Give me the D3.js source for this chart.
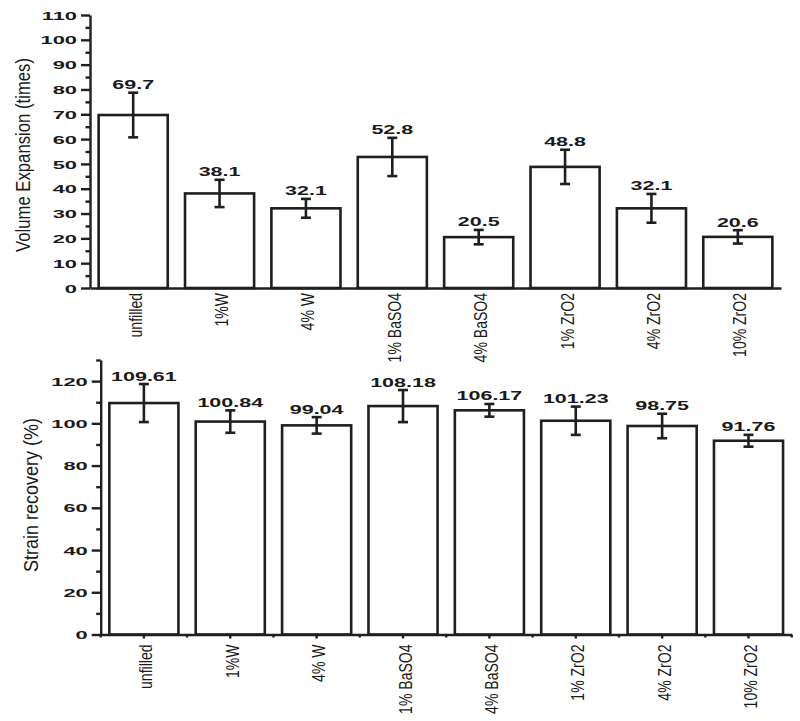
<!DOCTYPE html>
<html>
<head>
<meta charset="utf-8">
<script src="https://cdn.jsdelivr.net/npm/d3@7"></script>
<style>
  body { margin: 0; background: #fff; }
  svg { display: block; }
  text { fill: #1a1a1a; font-family: "Liberation Sans", Arial, sans-serif; }
</style>
</head>
<body>
<svg id="vis" width="800" height="721"></svg>
<script>
// sample names
const categories = ['unfilled', '1%W', '4% W', '1% BaSO4', '4% BaSO4', '1% ZrO2', '4% ZrO2', '10% ZrO2'];
// volume expansion (times) and error
const expansion = [69.7, 38.1, 32.1, 52.8, 20.5, 48.8, 32.1, 20.6];
const expansionErr = [9.0, 5.5, 3.8, 7.7, 2.9, 6.9, 5.8, 2.7];
// strain recovery (%) and error
const recovery = [109.61, 100.84, 99.04, 108.18, 106.17, 101.23, 98.75, 91.76];
const recoveryErr = [9.0, 5.3, 3.9, 7.6, 3.0, 6.7, 5.8, 2.8];
// y ticks
const expTicks = d3.range(0, 111, 10);
const expMinor = d3.range(5, 110, 10);
const recTicks = d3.range(0, 121, 20);
const recMinor = d3.range(10, 131, 20);

const svg = d3.select('#vis');
const ink = '#1f1f1f';

function panel(opt) {
  const g = svg.append('g');
  const x = d3.scaleBand().domain(categories).range(opt.xr).paddingInner(0.2).paddingOuter(0.1);
  const y = d3.scaleLinear().domain(opt.yd).range(opt.yr);

  // bars
  g.selectAll('rect.bar').data(opt.values).join('rect')
    .attr('class', 'bar')
    .attr('x', (d, i) => x(categories[i]))
    .attr('y', d => y(d))
    .attr('width', x.bandwidth())
    .attr('height', d => y(0) - y(d))
    .attr('fill', '#fff').attr('stroke', ink).attr('stroke-width', 2.6);

  // error bars
  const eb = g.selectAll('g.err').data(opt.values).join('g')
    .attr('class', 'err')
    .attr('transform', (d, i) => `translate(${x(categories[i]) + x.bandwidth() / 2},0)`);
  eb.append('line')
    .attr('y1', (d, i) => y(d + opt.errs[i])).attr('y2', (d, i) => y(d - opt.errs[i]));
  eb.append('line').attr('x1', -5).attr('x2', 5)
    .attr('y1', (d, i) => y(d + opt.errs[i])).attr('y2', (d, i) => y(d + opt.errs[i]));
  eb.append('line').attr('x1', -5).attr('x2', 5)
    .attr('y1', (d, i) => y(d - opt.errs[i])).attr('y2', (d, i) => y(d - opt.errs[i]));
  eb.selectAll('line').attr('stroke', ink).attr('stroke-width', 2.6);

  // value labels (the figure is stretched sideways, so are the numbers)
  eb.append('text')
    .attr('transform', (d, i) => `translate(0,${y(d + opt.errs[i]) - 3.5}) scale(1.72,1)`)
    .attr('text-anchor', 'middle')
    .style('font-weight', 'bold').style('font-size', '12.5px')
    .text(d => String(d));

  // y axis
  const ya = g.append('g').attr('transform', `translate(${opt.xr[0]},0)`)
    .call(d3.axisLeft(y).tickValues(opt.ticks).tickSize(9).tickSizeOuter(0).tickPadding(0));
  ya.selectAll('text')
    .attr('x', null).attr('dy', '0.36em')
    .attr('transform', `translate(-13,0) scale(1.9,1)`)
    .style('font-weight', 'bold').style('font-size', '11.5px');
  g.append('g').attr('transform', `translate(${opt.xr[0]},0)`)
    .call(d3.axisLeft(y).tickValues(opt.minor).tickSize(4.5).tickFormat(''))
    .select('.domain').remove();

  // x axis
  const xa = g.append('g').attr('transform', `translate(0,${y(0)})`)
    .call(d3.axisBottom(x).tickSize(opt.xTick).tickSizeOuter(0).tickFormat(''));
  if (opt.xTick > 0) {
    const edges = categories.map(c => x(c) - x.step() * x.paddingInner() / 2).concat([opt.xr[1]]);
    xa.selectAll('line.minor').data(edges).join('line')
      .attr('class', 'minor')
      .attr('x1', d => d).attr('x2', d => d).attr('y1', 0).attr('y2', 3);
  }
  g.selectAll('.domain, .tick line, line.minor').attr('stroke', ink).attr('stroke-width', 2.4);

  // category labels, rotated
  g.selectAll('text.cat').data(categories).join('text')
    .attr('class', 'cat')
    .attr('transform', d => `translate(${x(d) + x.bandwidth() / 2 + 8.5},${y(0) + opt.labelGap}) rotate(-90) scale(0.78,1)`)
    .attr('text-anchor', 'end')
    .style('font-size', '18px')
    .text(d => d);

  // axis title
  svg.append('text')
    .attr('transform', `translate(${opt.titleX},${opt.titleY}) rotate(-90)`)
    .attr('text-anchor', 'middle')
    .attr('textLength', opt.titleLen).attr('lengthAdjust', 'spacingAndGlyphs')
    .style('font-size', '21px')
    .text(opt.title);
}

panel({
  values: expansion, errs: expansionErr,
  xr: [90, 781], yd: [0, 110], yr: [288, 15],
  ticks: expTicks, minor: expMinor, xTick: 0, labelGap: 5,
  title: 'Volume Expansion (times)', titleX: 29.5, titleY: 155, titleLen: 194
});

panel({
  values: recovery, errs: recoveryErr,
  xr: [100.7, 791.7], yd: [0, 130], yr: [634.5, 360],
  ticks: recTicks, minor: recMinor, xTick: 4, labelGap: 10,
  title: 'Strain recovery (%)', titleX: 37.5, titleY: 495, titleLen: 154
});
</script>
</body>
</html>
